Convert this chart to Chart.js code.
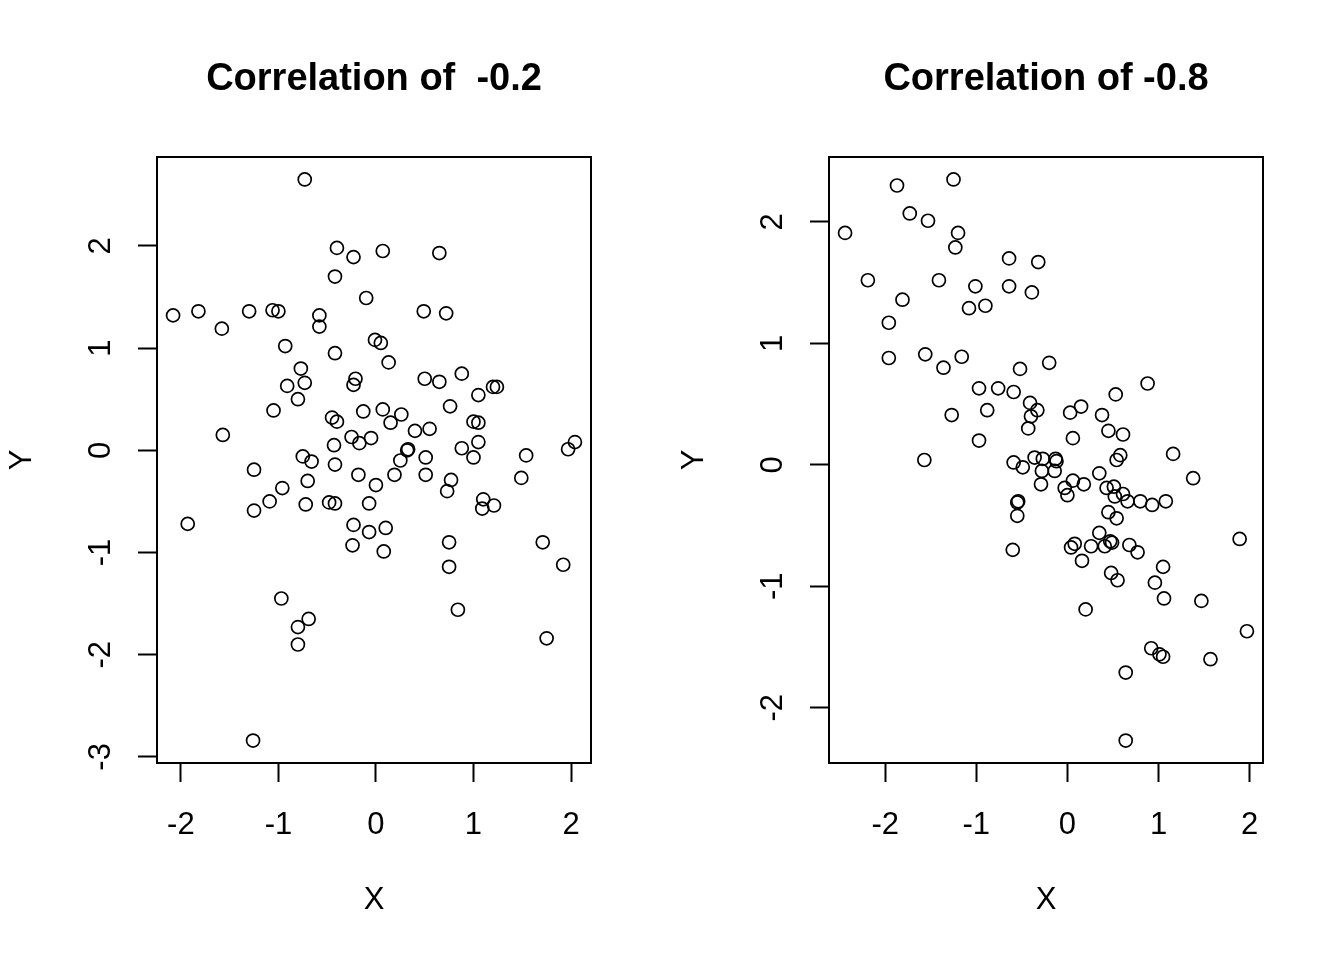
<!DOCTYPE html>
<html>
<head>
<meta charset="utf-8">
<title>Correlation scatter plots</title>
<script src="https://cdn.jsdelivr.net/npm/chart.js@4.4.1/dist/chart.umd.min.js"></script>
<style>
  html, body { margin: 0; padding: 0; background: #ffffff; overflow: hidden; }
  #root { position: relative; width: 1344px; height: 960px; background: #ffffff; }
  .panel { position: absolute; top: 0; width: 672px; height: 960px; }
</style>
</head>
<body>
<div id="root">
  <div class="panel" style="left:0px"><canvas id="chart-left" width="672" height="960"></canvas></div>
  <div class="panel" style="left:672px"><canvas id="chart-right" width="672" height="960"></canvas></div>
</div>
<script>
// left panel: correlation about -0.2
const leftX = [
  -0.73, -0.40, -0.23, -0.42, -0.10, -2.08, -1.82, -1.58, -1.30, -1.06,
  -1.00, -0.58, -0.58, -0.93, -0.42, -0.01, 0.05, -0.77, -0.73, -0.91,
  -0.80, -0.21, -0.23, -1.05, -0.13, -0.45, -0.40, -1.57, -0.25, -0.17,
  -0.05, -0.43, -0.75, -0.66, -0.42, -1.25, -0.18, 0.00, -0.70, -0.96,
  -1.09, -1.25, -0.72, -0.48, -0.42, -0.07, -1.93, -0.23, -0.07, -0.24,
  -0.97, -0.69, -0.80, -0.80, -1.26, 0.07, 0.65, 0.49, 0.72, 0.13,
  0.50, 0.65, 0.88, 1.05, 1.20, 1.24, 0.76, 0.07, 0.26, 0.15,
  0.40, 0.55, 1.00, 1.05, 0.32, 0.33, 0.25, 0.51, 0.88, 1.05,
  1.00, 1.54, 1.97, 2.04, 0.19, 0.51, 0.77, 0.73, 1.49, 1.10,
  1.09, 1.21, 0.10, 0.08, 0.75, 1.71, 0.75, 1.92, 0.84, 1.75
];
const leftY = [
  2.65, 1.98, 1.89, 1.70, 1.49, 1.32, 1.36, 1.19, 1.36, 1.37,
  1.36, 1.32, 1.21, 1.02, 0.95, 1.08, 1.05, 0.80, 0.66, 0.63,
  0.50, 0.70, 0.64, 0.39, 0.38, 0.32, 0.28, 0.15, 0.13, 0.07,
  0.12, 0.05, -0.06, -0.11, -0.14, -0.19, -0.24, -0.34, -0.30, -0.37,
  -0.50, -0.59, -0.53, -0.51, -0.52, -0.52, -0.72, -0.73, -0.80, -0.93,
  -1.45, -1.65, -1.73, -1.90, -2.84, 1.95, 1.93, 1.36, 1.34, 0.86,
  0.70, 0.67, 0.75, 0.54, 0.62, 0.62, 0.43, 0.40, 0.35, 0.27,
  0.19, 0.21, 0.28, 0.27, 0.00, 0.01, -0.10, -0.07, 0.02, 0.08,
  -0.07, -0.05, 0.01, 0.08, -0.24, -0.24, -0.29, -0.40, -0.27, -0.48,
  -0.57, -0.54, -0.76, -0.99, -0.90, -0.90, -1.14, -1.12, -1.56, -1.84
];

// right panel: correlation about -0.8
const rightX = [
  -1.87, -1.25, -2.44, -1.73, -1.53, -1.20, -1.23, -2.19, -1.41, -0.64,
  -0.32, -1.01, -0.64, -0.39, -1.81, -1.08, -0.90, -1.96, -1.96, -1.56,
  -1.36, -1.16, -0.52, -0.20, -0.97, -0.76, -0.59, -0.41, -0.33, -0.40,
  -0.43, -1.27, -0.88, -0.97, -1.57, 0.03, 0.15, 0.06, 0.38, 0.53,
  0.88, 0.45, 0.61, -0.59, -0.49, -0.36, -0.27, -0.13, -0.12, -0.28,
  -0.14, -0.29, 0.58, 0.54, 1.16, 1.38, 0.35, 0.06, -0.03, 0.00,
  0.18, 0.43, 0.51, 0.52, 0.61, 0.66, 0.80, 0.93, 1.08, -0.55,
  -0.54, -0.55, 0.45, 0.54, 0.35, 0.47, 0.49, 0.41, 0.68, 0.77,
  0.08, 0.04, 0.26, 0.16, 1.89, 1.05, 0.48, 0.55, 0.96, 1.06,
  1.47, 0.20, 1.97, 0.92, 1.01, 1.05, 1.57, 0.64, 0.64, -0.60
];
const rightY = [
  2.30, 2.35, 1.91, 2.07, 2.01, 1.91, 1.79, 1.52, 1.52, 1.70,
  1.67, 1.47, 1.47, 1.42, 1.36, 1.29, 1.31, 1.17, 0.88, 0.91,
  0.80, 0.89, 0.79, 0.84, 0.63, 0.63, 0.60, 0.51, 0.45, 0.40,
  0.30, 0.41, 0.45, 0.20, 0.04, 0.43, 0.48, 0.22, 0.41, 0.58,
  0.67, 0.28, 0.25, 0.02, -0.02, 0.06, 0.05, 0.05, 0.03, -0.05,
  -0.05, -0.16, 0.08, 0.04, 0.09, -0.11, -0.07, -0.13, -0.19, -0.25,
  -0.16, -0.19, -0.18, -0.26, -0.24, -0.30, -0.30, -0.33, -0.30, -0.31,
  -0.30, -0.42, -0.39, -0.44, -0.56, -0.63, -0.64, -0.67, -0.66, -0.72,
  -0.65, -0.68, -0.67, -0.79, -0.61, -0.84, -0.89, -0.95, -0.97, -1.10,
  -1.12, -1.19, -1.37, -1.51, -1.56, -1.58, -1.60, -1.71, -2.27, -0.70
];

const leftXTicks = [-2, -1, 0, 1, 2];
const leftYTicks = [-3, -2, -1, 0, 1, 2];
const rightXTicks = [-2, -1, 0, 1, 2];
const rightYTicks = [-2, -1, 0, 1, 2];

const leftTitle = 'Correlation of  -0.2';
const rightTitle = 'Correlation of -0.8';

const FONT = '"Liberation Sans", Arial, Helvetica, sans-serif';

// R pads the data range by 4% on each side
const _range = values => {
    const lo = Math.min(...values);
    const hi = Math.max(...values);
    const pad = (hi - lo) * 0.04;
    return { min: lo - pad, max: hi + pad };
}

// the box around the plot region
const plotBox = {
    id: 'plotBox',
    afterDraw(chart) {
        const { ctx, chartArea } = chart;
        ctx.save();
        ctx.strokeStyle = '#000000';
        ctx.lineWidth = 2;
        ctx.strokeRect(chartArea.left, chartArea.top, chartArea.right - chartArea.left, chartArea.bottom - chartArea.top);
        ctx.restore();
    }
};

const _axis = (range, tickValues, extra) => {
    return Object.assign({
        type: 'linear',
        min: range.min,
        max: range.max,
        afterBuildTicks: scale => {
            scale.ticks = tickValues.map(v => ({ value: v }));
        },
        grid: {
            display: true,
            drawOnChartArea: false,
            drawTicks: true,
            tickLength: 19,
            tickWidth: 2,
            tickColor: '#000000',
            color: '#000000'
        },
        border: {
            display: true,
            color: '#000000',
            width: 2
        }
    }, extra);
}

const _createChart = (canvas, title, xs, ys, xTicks, yTicks) => {
    return new Chart(canvas, {
        type: 'scatter',
        data: {
            datasets: [{
                data: xs.map((x, i) => ({ x: x, y: ys[i] })),
                pointStyle: 'circle',
                pointRadius: 6.5,
                pointHoverRadius: 6.5,
                pointBorderWidth: 1.7,
                pointBorderColor: '#000000',
                pointBackgroundColor: 'rgba(0,0,0,0)'
            }]
        },
        options: {
            responsive: false,
            animation: false,
            devicePixelRatio: 1,
            events: [],
            layout: {
                padding: { left: 0, right: 81, top: 0, bottom: 0 }
            },
            plugins: {
                legend: { display: false },
                tooltip: { enabled: false },
                title: {
                    display: true,
                    fullSize: false,
                    text: title,
                    color: '#000000',
                    font: { family: FONT, size: 38, weight: 'bold' },
                    padding: { top: 57, bottom: 54.4 }
                }
            },
            scales: {
                x: _axis(_range(xs), xTicks, {
                    position: 'bottom',
                    afterFit: scale => { scale.height = 197; },
                    ticks: {
                        color: '#000000',
                        font: { family: FONT, size: 31 },
                        padding: 25,
                        maxRotation: 0,
                        minRotation: 0
                    },
                    title: {
                        display: true,
                        text: 'X',
                        color: '#000000',
                        font: { family: FONT, size: 31 },
                        padding: { top: 0, bottom: 41 }
                    }
                }),
                y: _axis(_range(ys), yTicks, {
                    position: 'left',
                    afterFit: scale => { scale.width = 157; },
                    ticks: {
                        color: '#000000',
                        font: { family: FONT, size: 31 },
                        padding: 23,
                        minRotation: 90,
                        maxRotation: 90,
                        crossAlign: 'center'
                    },
                    title: {
                        display: true,
                        text: 'Y',
                        color: '#000000',
                        font: { family: FONT, size: 31 },
                        padding: { top: 4, bottom: 0 }
                    }
                })
            }
        },
        plugins: [plotBox]
    });
}

_createChart(document.getElementById('chart-left'), leftTitle, leftX, leftY, leftXTicks, leftYTicks);
_createChart(document.getElementById('chart-right'), rightTitle, rightX, rightY, rightXTicks, rightYTicks);
</script>
</body>
</html>
